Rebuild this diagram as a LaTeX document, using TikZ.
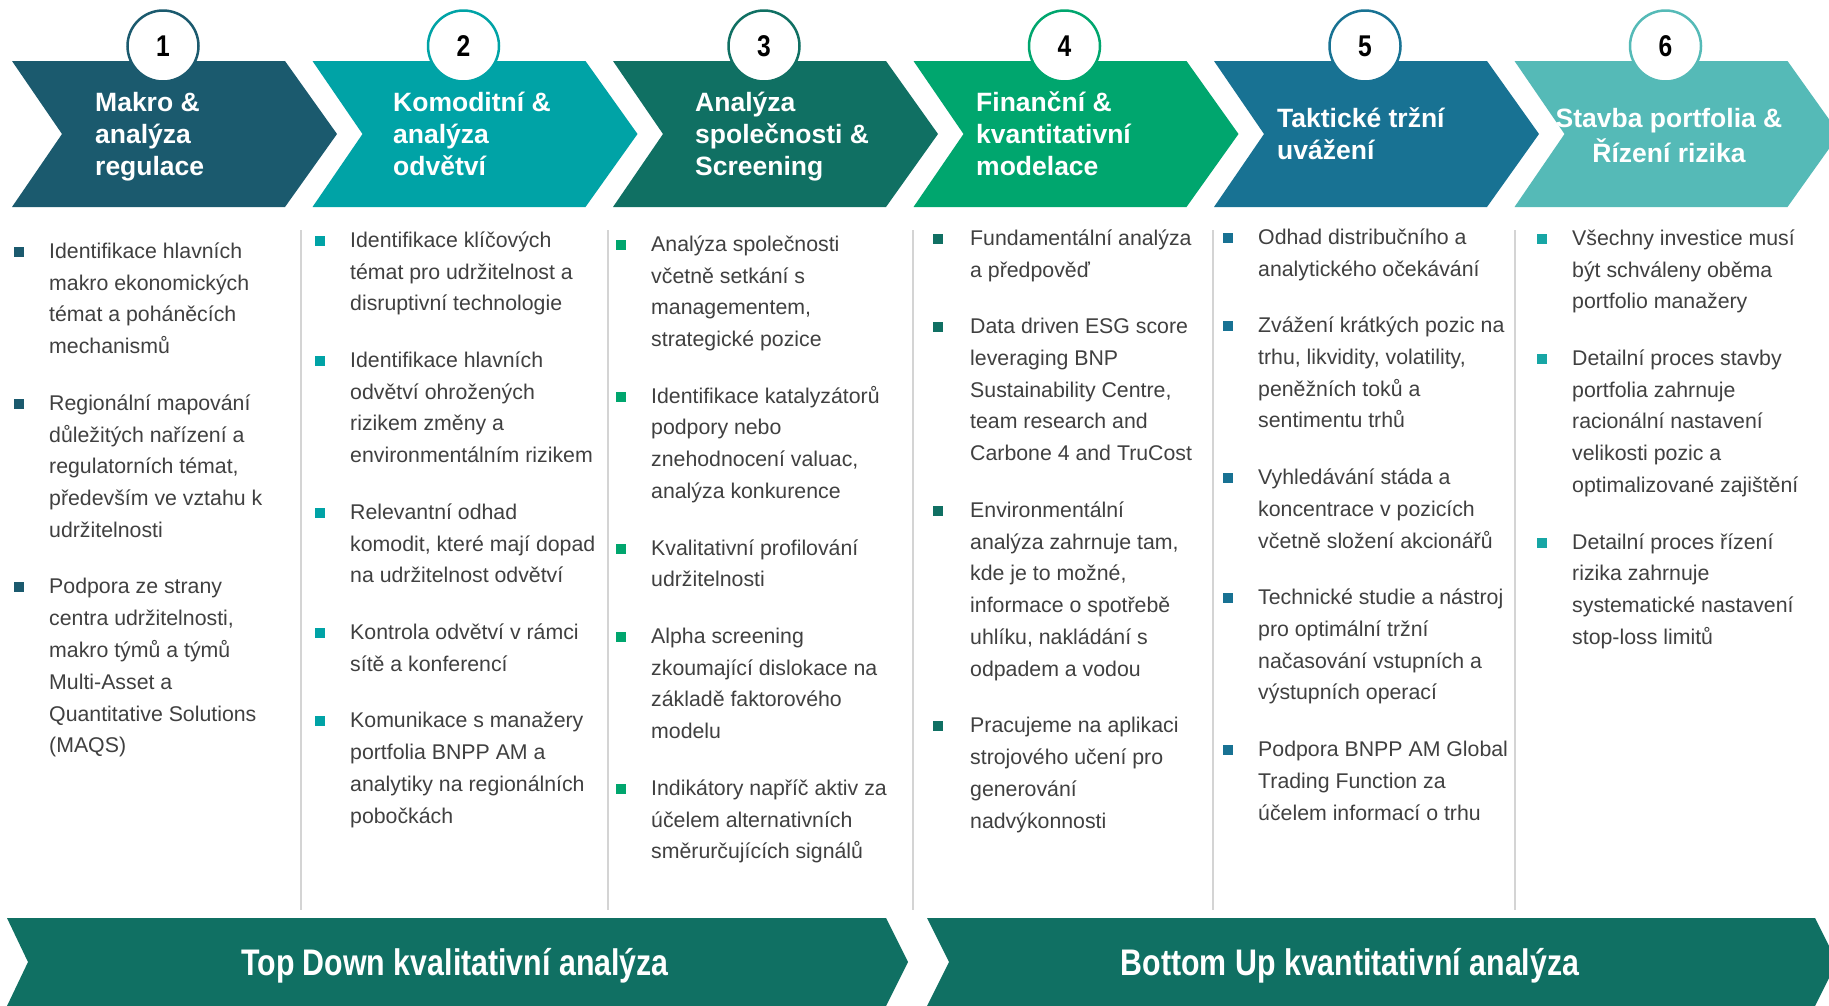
\documentclass[tikz,border=0pt]{standalone}
\usepackage{fontspec}
\setmainfont{Liberation Sans}
\newfontfamily\narrowfont[FakeStretch=0.82]{Liberation Sans}
\definecolor{cA}{HTML}{1B5A6E}
\definecolor{cB}{HTML}{00A3A6}
\definecolor{cC}{HTML}{107063}
\definecolor{cD}{HTML}{00A66E}
\definecolor{cE}{HTML}{187293}
\definecolor{cF}{HTML}{55BAB7}
\definecolor{bulF}{HTML}{17A6A5}
\definecolor{txtgray}{HTML}{404040}
\definecolor{sepgray}{HTML}{D4D4D4}
\tikzset{
  hdr/.style={text=white, font=\fontsize{26.5}{32}\selectfont\bfseries, align=left, inner sep=0pt, anchor=north west},
  hdrc/.style={hdr, align=center, anchor=north},
  num/.style={circle, minimum size=71pt, line width=2.5pt, fill=white, text=black, inner sep=0pt, font=\narrowfont\bfseries\fontsize{30}{30}\selectfont},
  bodytxt/.style={text=txtgray, font=\fontsize{21.3}{31.8}\selectfont, align=left, inner sep=0pt, anchor=north west},
  bul/.style={minimum size=10pt, inner sep=0pt, anchor=south west, draw=none},
  sepline/.style={draw=sepgray, line width=2pt},
  bartxt/.style={text=white, font=\narrowfont\bfseries\fontsize{37}{40}\selectfont, inner sep=0pt, anchor=base},
}
\newcommand\chevshape[2]{%
  \fill[#2] (#1,61) -- (#1+273,61) -- (#1+325,134) -- (#1+273,207) -- (#1,207) -- (#1+50,134) -- cycle;}
\newcommand\bitem[6]{%
  \node[bul, fill=#2] (#1b) at (#3,#5-1) {};
  \node[bodytxt] (#1) at (#4,#5-22.26) {\strut #6};}
\begin{document}
\begin{tikzpicture}[x=1pt,y=-1pt]
\clip (0,0) rectangle (1829,1005);
\fill[white] (0,0) rectangle (1829,1005);

% chevrons
\chevshape{12}{cA}
\chevshape{312.5}{cB}
\chevshape{613}{cC}
\chevshape{913.5}{cD}
\chevshape{1214}{cE}
\chevshape{1514.5}{cF}

% number circles
\node[num, draw=cA] (n1) at (163,46) {1};
\node[num, draw=cB] (n2) at (463.5,46) {2};
\node[num, draw=cC] (n3) at (764,46) {3};
\node[num, draw=cD] (n4) at (1064.5,46) {4};
\node[num, draw=cE] (n5) at (1365,46) {5};
\node[num, draw=cF] (n6) at (1665.5,46) {6};

% headers
\node[hdr] (h1) at (95,89.1) {\strut Makro \&\\analýza\\regulace};
\node[hdr] (h2) at (393,89.1) {\strut Komoditní \&\\analýza\\odvětví};
\node[hdr] (h3) at (695,89.1) {\strut Analýza\\společnosti \&\\Screening};
\node[hdr] (h4) at (976,89.1) {\strut Finanční \&\\kvantitativní\\modelace};
\node[hdr] (h5) at (1277,105.1) {\strut Taktické tržní\\uvážení};
\node[hdrc] (h6) at (1669,105.1) {\strut Stavba portfolia \&\\Řízení rizika};

% separators
\draw[sepline] (301,230) -- (301,910);
\draw[sepline] (608,230) -- (608,910);
\draw[sepline] (913,230) -- (913,910);
\draw[sepline] (1213,230) -- (1213,910);
\draw[sepline] (1515,230) -- (1515,910);

% column 1
\bitem{a1}{cA}{14}{49}{258}{Identifikace hlavních\\makro ekonomických\\témat a poháněcích\\mechanismů}
\bitem{a2}{cA}{14}{49}{410}{Regionální mapování\\důležitých nařízení a\\regulatorních témat,\\především ve vztahu k\\udržitelnosti}
\bitem{a3}{cA}{14}{49}{593.6}{Podpora ze strany\\centra udržitelnosti,\\makro týmů a týmů\\Multi-Asset a\\Quantitative Solutions\\(MAQS)}

% column 2
\bitem{b1}{cB}{315}{350}{247}{Identifikace klíčových\\témat pro udržitelnost a\\disruptivní technologie}
\bitem{b2}{cB}{315}{350}{367.1}{Identifikace hlavních\\odvětví ohrožených\\rizikem změny a\\environmentálním rizikem}
\bitem{b3}{cB}{315}{350}{519}{Relevantní odhad\\komodit, které mají dopad\\na udržitelnost odvětví}
\bitem{b4}{cB}{315}{350}{639.1}{Kontrola odvětví v rámci\\sítě a konferencí}
\bitem{b5}{cB}{315}{350}{727.4}{Komunikace s manažery\\portfolia BNPP AM a\\analytiky na regionálních\\pobočkách}

% column 3
\bitem{c1}{cD}{616}{651}{251}{Analýza společnosti\\včetně setkání s\\managementem,\\strategické pozice}
\bitem{c2}{cD}{616}{651}{402.9}{Identifikace katalyzátorů\\podpory nebo\\znehodnocení valuac,\\analýza konkurence}
\bitem{c3}{cD}{616}{651}{554.8}{Kvalitativní profilování\\udržitelnosti}
\bitem{c4}{cD}{616}{651}{643.1}{Alpha screening\\zkoumající dislokace na\\základě faktorového\\modelu}
\bitem{c5}{cD}{616}{651}{795}{Indikátory napříč aktiv za\\účelem alternativních\\směrurčujících signálů}

% column 4
\bitem{d1}{cC}{933}{970}{245}{Fundamentální analýza\\a předpověď}
\bitem{d2}{cC}{933}{970}{333.3}{Data driven ESG score\\leveraging BNP\\Sustainability Centre,\\team research and\\Carbone 4 and TruCost}
\bitem{d3}{cC}{933}{970}{517}{Environmentální\\analýza zahrnuje tam,\\kde je to možné,\\informace o spotřebě\\uhlíku, nakládání s\\odpadem a vodou}
\bitem{d4}{cC}{933}{970}{732.5}{Pracujeme na aplikaci\\strojového učení pro\\generování\\nadvýkonnosti}

% column 5
\bitem{e1}{cE}{1223}{1258}{244}{Odhad distribučního a\\analytického očekávání}
\bitem{e2}{cE}{1223}{1258}{332.3}{Zvážení krátkých pozic na\\trhu, likvidity, volatility,\\peněžních toků a\\sentimentu trhů}
\bitem{e3}{cE}{1223}{1258}{484.2}{Vyhledávání stáda a\\koncentrace v pozicích\\včetně složení akcionářů}
\bitem{e4}{cE}{1223}{1258}{604.3}{Technické studie a nástroj\\pro optimální tržní\\načasování vstupních a\\výstupních operací}
\bitem{e5}{cE}{1223}{1258}{756.2}{Podpora BNPP AM Global\\Trading Function za\\účelem informací o trhu}

% column 6
\bitem{f1}{bulF}{1537}{1572}{245}{Všechny investice musí\\být schváleny oběma\\portfolio manažery}
\bitem{f2}{bulF}{1537}{1572}{365.1}{Detailní proces stavby\\portfolia zahrnuje\\racionální nastavení\\velikosti pozic a\\optimalizované zajištění}
\bitem{f3}{bulF}{1537}{1572}{548.8}{Detailní proces řízení\\rizika zahrnuje\\systematické nastavení\\stop-loss limitů}

% bottom bars
\fill[cC] (7,918) -- (886,918) -- (908,962) -- (886,1006) -- (7,1006) -- (28,962) -- cycle;
\fill[cC] (927,918) -- (1815,918) -- (1837,962) -- (1815,1006) -- (927,1006) -- (949,962) -- cycle;
\node[bartxt] (bar1) at (455,975.5) {Top Down kvalitativní analýza};
\node[bartxt] (bar2) at (1350,975.5) {Bottom Up kvantitativní analýza};
\end{tikzpicture}
\end{document}
